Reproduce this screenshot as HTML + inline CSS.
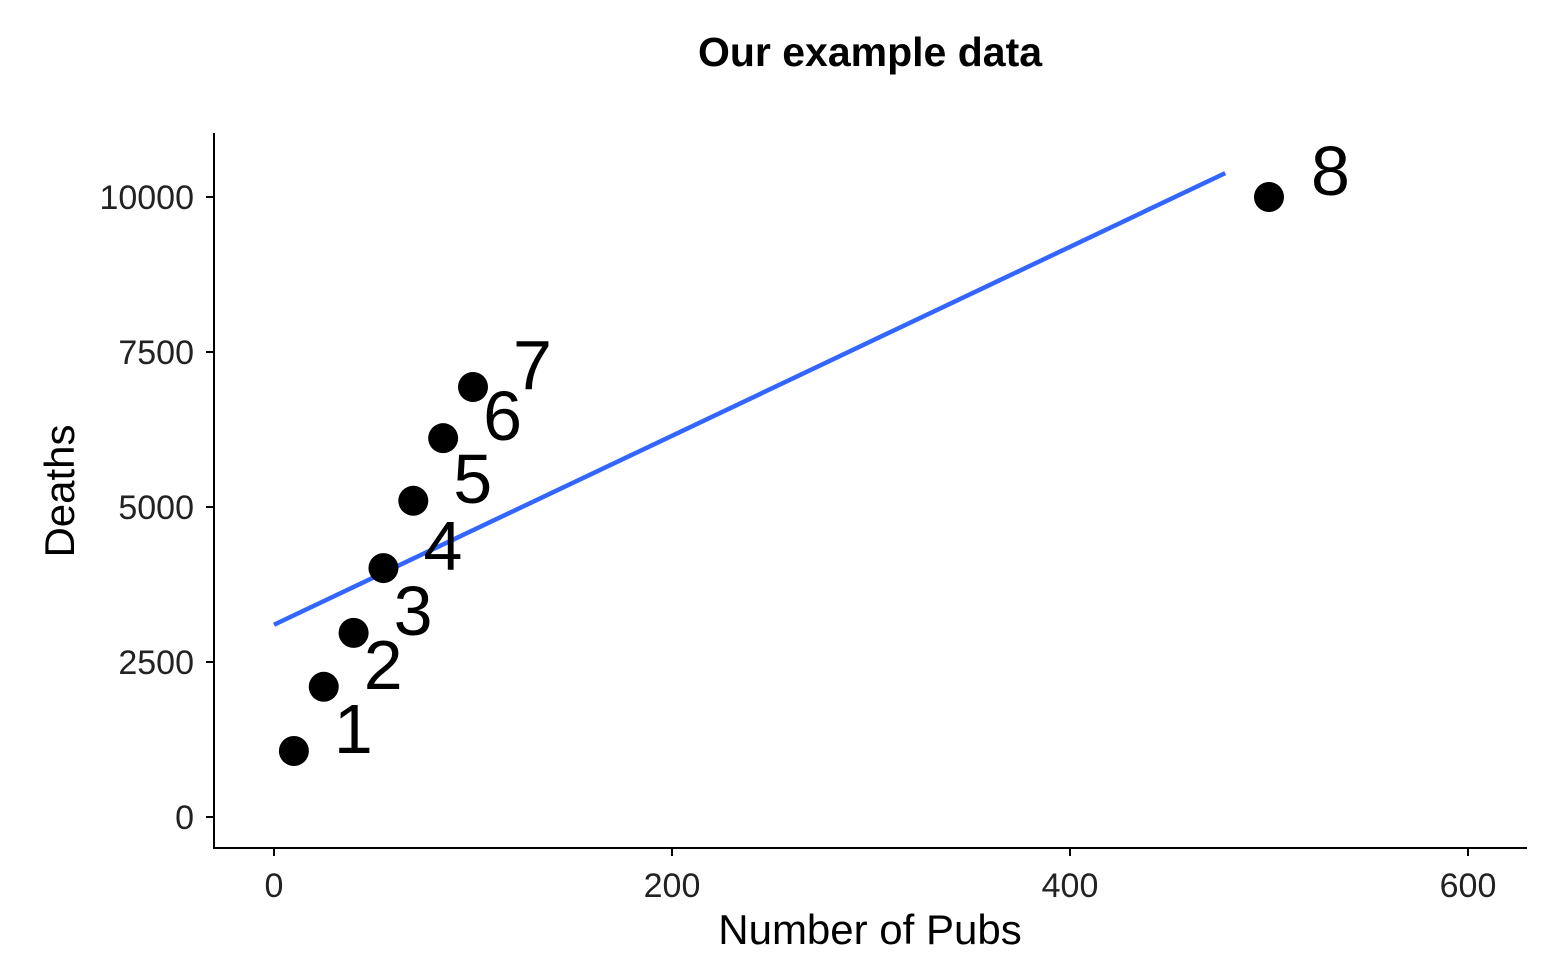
<!DOCTYPE html>
<html><head><meta charset="utf-8"><style>
body{margin:0;background:#fff}
svg text{font-family:"Liberation Sans",Arial,sans-serif}
</style></head><body>
<svg id="chart" width="1546" height="970" viewBox="0 0 1546 970">
<text x="870" y="66" text-anchor="middle" font-size="41" font-weight="bold">Our example data</text>
<g id="axes"></g>
<g id="marks"></g>
<text x="870" y="944" text-anchor="middle" font-size="42">Number of Pubs</text>
<text transform="translate(74,491) rotate(-90)" text-anchor="middle" font-size="42">Deaths</text>
</svg>
<script>
const pubs=[10,25,40,55,70,85,100,500];
const deaths=[1065,2100,2970,4015,5100,6110,6935,10000];
const pointLabels=["1","2","3","4","5","6","7","8"];
const xTicks=[0,200,400,600];
const yTicks=[0,2500,5000,7500,10000];
const NS="http://www.w3.org/2000/svg";
const sx=v=>274+v*1.99;
const sy=v=>817-v*0.062;
function mk(tag,attrs,parent){const e=document.createElementNS(NS,tag);for(const k in attrs)e.setAttribute(k,attrs[k]);parent.appendChild(e);return e;}
const ax=document.getElementById('axes'),mg=document.getElementById('marks');
let l=mk('line',{x1:214,y1:133,x2:214,y2:849,stroke:'#000','stroke-width':2},ax);


l=mk('line',{x1:213,y1:848,x2:1527,y2:848,stroke:'#000','stroke-width':2},ax);


xTicks.forEach(t=>{
 const tk=mk('line',{x1:sx(t),y1:848,x2:sx(t),y2:856,stroke:'#000','stroke-width':2},ax);
 
 
 const tx=mk('text',{x:sx(t),y:897,'text-anchor':'middle','font-size':34,fill:'#222'},ax);
 tx.textContent=t;
 
 
});
yTicks.forEach(t=>{
 const tk=mk('line',{x1:206,y1:sy(t),x2:214,y2:sy(t),stroke:'#000','stroke-width':2},ax);
 
 
 const tx=mk('text',{x:194,y:sy(t)+12,'text-anchor':'end','font-size':34,fill:'#222'},ax);
 tx.textContent=t;
 
 
});
const n=pubs.length;const mx=pubs.reduce((a,b)=>a+b)/n,my=deaths.reduce((a,b)=>a+b)/n;
let sxy=0,sxx=0;for(let i=0;i<n;i++){sxy+=(pubs[i]-mx)*(deaths[i]-my);sxx+=(pubs[i]-mx)**2;}
const slope=sxy/sxx,icp=my-slope*mx;
const x0=0,x1=Math.max(...pubs)*0.956;
const rl=mk('line',{x1:sx(x0),y1:sy(icp+slope*x0),x2:sx(x1),y2:sy(icp+slope*x1),stroke:'#3366FF','stroke-width':4.5},mg);


pubs.forEach((p,i)=>{
 const c=mk('circle',{cx:sx(p),cy:sy(deaths[i]),r:15,fill:'#000'},mg);
 
 
 const last=i===n-1;
 const t=mk('text',{x:sx(p)+(last?42:40),y:sy(deaths[i])+(last?-2:2),'font-size':70},mg);
 t.textContent=pointLabels[i];
 
 
});
</script>
</body></html>
